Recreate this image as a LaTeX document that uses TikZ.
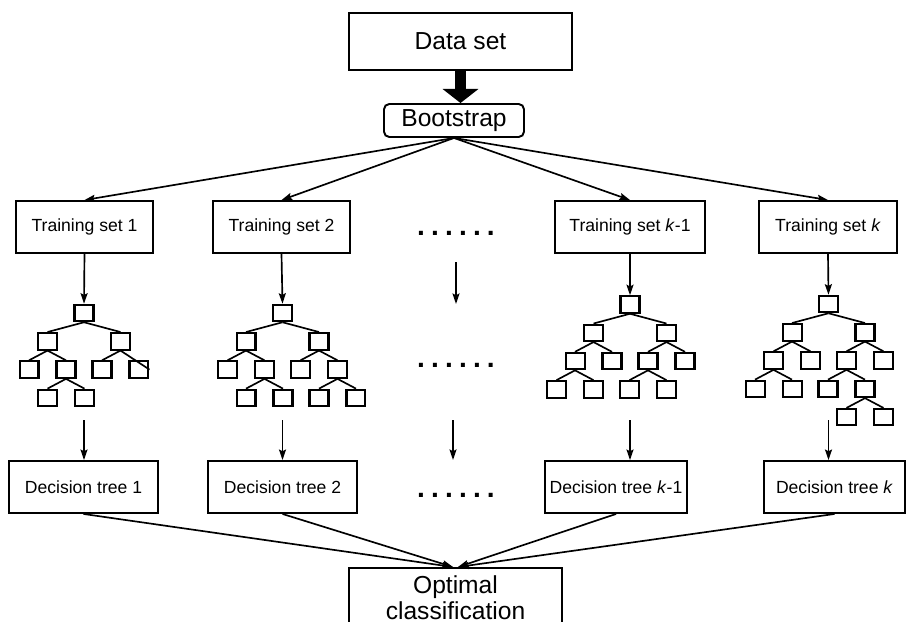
\documentclass[tikz,border=0pt]{standalone}
\usepackage{fontspec}
\setmainfont{Liberation Sans}
\usetikzlibrary{arrows.meta,positioning,calc}

\newcommand{\dotrow}{.\hspace{3.5pt}.\hspace{3.5pt}.\hspace{3.5pt}.\hspace{3.5pt}.\hspace{3.5pt}.}

\begin{document}
\begin{tikzpicture}[
  x=0.02cm, y=-0.02cm,
  >={Stealth[length=6pt,width=4pt,inset=1pt]},
  line width=0.95pt,
  bigbox/.style={draw, line width=1.1pt, font=\fontsize{14}{14.5}\selectfont, inner sep=0pt, align=center},
  setbox/.style={draw, line width=1.1pt, font=\fontsize{10}{12}\selectfont, minimum height=1.04cm, inner sep=0pt},
  leaf/.style={draw, line width=1.15pt, minimum width=0.38cm, minimum height=0.33cm, inner sep=0pt},
  dotrowstyle/.style={font=\fontsize{16}{16}\selectfont\bfseries, inner sep=0pt},
  treestyle/.style={level distance=0.566cm,
    level/.style={sibling distance=0.74cm},
    level 1/.style={sibling distance=1.46cm},
    every child node/.style={leaf},
    edge from parent path={(\tikzparentnode.south) -- (\tikzchildnode.north)}}
]
\useasboundingbox (0,0) rectangle (907,622);

% top
\node[bigbox, minimum width=4.46cm, minimum height=1.14cm] (data) at (460.5,41.5) {Data set};
\node[bigbox, rounded corners=3pt, minimum width=2.8cm, minimum height=0.66cm] (boot) at (454,120.5) {Bootstrap};
\draw[line width=5.7pt, -{Triangle[length=8pt,width=20pt]}] (data.south) -- (data.south |- boot.north);

% training sets
\node[setbox, minimum width=2.74cm] (tr1) at (84.5,227) {Training set 1};
\node[setbox, minimum width=2.74cm] (tr2) at (281.5,227) {Training set 2};
\node[setbox, minimum width=3.0cm] (trk1) at (630,227) {Training set \textit{k}-1};
\node[setbox, minimum width=2.76cm] (trk) at (828,227) {Training set \textit{k}};
\foreach \t in {tr1,tr2,trk1,trk}
  \draw[->] (boot.south) -- (\t.north);

% trees
\begin{scope}[treestyle]
\node[leaf] (ta) at (84,313) {}
  child {node {}
    child {node {}}
    child {node {}
      child {node {}}
      child {node {}}}}
  child {node {}
    child {node {}}
    child[edge from parent path={(\tikzparentnode.south) -- (\tikzchildnode.east)}] {node {}}};
\node[leaf] (tb) at (282.5,313) {}
  child {node {}
    child {node {}}
    child {node {}
      child {node {}}
      child {node {}}}}
  child {node {}
    child {node {}}
    child {node {}
      child {node {}}
      child {node {}}}};
\node[leaf] (tc) at (630,304.5) {}
  child {node {}
    child {node {}
      child {node {}}
      child {node {}}}
    child {node {}}}
  child {node {}
    child {node {}
      child {node {}}
      child {node {}}}
    child {node {}}};
\node[leaf] (td) at (828.5,304) {}
  child {node {}
    child {node {}
      child {node {}}
      child {node {}}}
    child {node {}}}
  child {node {}
    child {node {}
      child {node {}}
      child {node {}
        child {node {}}
        child {node {}}}}
    child {node {}}};
\end{scope}
\draw[->] (tr1.south) -- (ta.north);
\draw[->] (tr2.south) -- (tb.north);
\draw[->] (trk1.south) -- (tc.north);
\draw[->] (trk.south) -- (td.north);

% middle column
\node[dotrowstyle] (dotsa) at (456,233) {\dotrow};
\node[dotrowstyle] (dotsb) at (456,365) {\dotrow};
\node[dotrowstyle] (dotsc) at (456,495) {\dotrow};
\coordinate (ma) at (456,262);
\coordinate (mb) at (456,304);
\coordinate (mc) at (453,420);
\coordinate (md) at (453,460);
\draw[->] (ma) -- (mb);
\draw[->] (mc) -- (md);

% decision trees
\node[setbox, minimum width=2.98cm] (dt1) at (83.5,487) {Decision tree 1};
\node[setbox, minimum width=2.98cm] (dt2) at (282.5,487) {Decision tree 2};
\node[setbox, minimum width=2.84cm] (dtk1) at (616,487) {Decision tree \textit{k}-1};
\node[setbox, minimum width=2.82cm] (dtk) at (834.5,487) {Decision tree \textit{k}};
\draw[->] ([yshift=0.8cm]dt1.north -| ta) -- (dt1.north -| ta);
\draw[->] ([yshift=0.8cm]dt2.north -| tb) -- (dt2.north -| tb);
\draw[->] ([yshift=0.8cm]dtk1.north -| tc) -- (dtk1.north -| tc);
\draw[->] ([yshift=0.8cm]dtk.north -| td) -- (dtk.north -| td);

% result
\node[bigbox, anchor=north, minimum width=4.26cm, inner ysep=4.5pt] (opt) at (455.5,567) {Optimal\\classification};
\coordinate (optl) at ([xshift=-0.05cm]opt.north);
\coordinate (optr) at ([xshift=0.05cm]opt.north);
\draw[->] (dt1.south) -- (optl);
\draw[->] (dt2.south) -- (optl);
\draw[->] (dtk1.south) -- (optr);
\draw[->] (dtk.south) -- (optr);
\end{tikzpicture}
\end{document}
